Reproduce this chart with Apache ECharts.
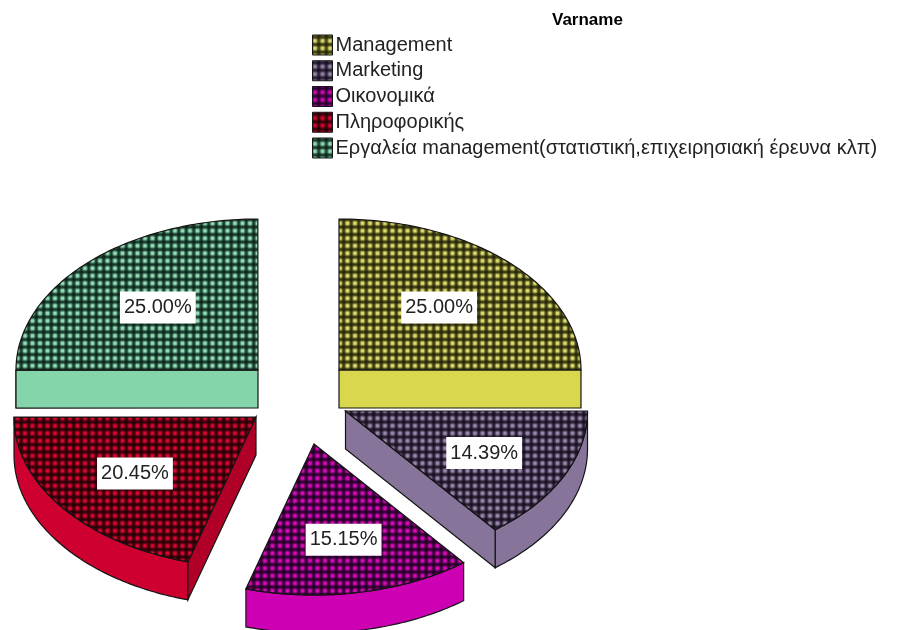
<!DOCTYPE html>
<html><head><meta charset="utf-8">
<style>html,body{margin:0;padding:0;background:#fff}#c{width:904px;height:630px;filter:blur(.4px)}</style>
<script src="https://cdn.jsdelivr.net/npm/echarts@6/dist/echarts.min.js"></script>
</head><body><div id="c"></div>
<script>
const categories=['Management','Marketing','Οικονομικά','Πληροφορικής','Εργαλεία management(στατιστική,επιχειρησιακή έρευνα κλπ)'];
const percentValues=[25.00,14.39,15.15,20.45,25.00];
const legendTitle='Varname';

const sideColors=['#D8D74E','#87749B','#CE00B4','#CE0030','#84D6AA'];
const cutColors=['#D8D74E','#87749B','#CE00B4','#B00028','#84D6AA'];
const dotRGB=[[220,219,110],[150,134,170],[216,10,184],[216,6,48],[146,222,184]];
const gridRGB=[[34,34,4],[22,12,30],[28,0,34],[30,0,4],[6,34,22]];
const apexes=[[339,370],[345.5,411],[314,444],[256,417],[258,370]];
const labelReach=[0.585,0.637,0.645,0.625,0.585];
const RX=242,RY=151,DEPTH=38,PERIOD=7.5;

function makePattern(i){
  const S=15,cv=document.createElement('canvas');cv.width=cv.height=S;
  const g=cv.getContext('2d'),im=g.createImageData(S,S);
  const wave=(p,ph)=>{const t=0.5+0.5*Math.cos(2*Math.PI*(p+0.5-ph)/PERIOD);return Math.min(1,0.14+1.0*t);};
  for(let y=0;y<S;y++)for(let x=0;x<S;x++){
    const m=wave(x,2.5)*wave(y,5.8),o=(y*S+x)*4;
    for(let k=0;k<3;k++)im.data[o+k]=gridRGB[i][k]+(dotRGB[i][k]-gridRGB[i][k])*m;
    im.data[o+3]=255;
  }
  g.putImageData(im,0,0);
  return {image:cv,repeat:'repeat'};
}
const patterns=categories.map((_,i)=>makePattern(i));

const starts=[];percentValues.reduce((a,v,i)=>{starts[i]=a;return a+v;},0);
const total=100;
const rad=p=>p/total*Math.PI*2;
const pt=(c,a,dy)=>[c[0]+RX*Math.sin(a),c[1]-RY*Math.cos(a)+(dy||0)];
function arc(c,a0,a1,dy){const n=Math.max(2,Math.ceil((a1-a0)*60)),o=[];
  for(let k=0;k<=n;k++)o.push(pt(c,a0+(a1-a0)*k/n,dy));return o;}

function renderSlice(i){return function(params,api){
  const v=api.value(0),c=apexes[i],a0=rad(starts[i]),a1=a0+rad(v);
  const ch=[];
  const line={stroke:'#141414',lineWidth:1.2};
  const face=(pts,fill)=>ch.push({type:'polygon',shape:{points:pts},style:Object.assign({fill},line)});
  const w0=Math.max(a0,Math.PI/2),w1=Math.min(a1,Math.PI*1.5);
  if(w1>w0){const up=arc(c,w0,w1,0),dn=arc(c,w0,w1,DEPTH).reverse();face(up.concat(dn),sideColors[i]);}
  if(Math.sin(a1)>1e-6){const p=pt(c,a1);face([c,p,[p[0],p[1]+DEPTH],[c[0],c[1]+DEPTH]],cutColors[i]);}
  if(Math.sin(a0)<-1e-6){const p=pt(c,a0);face([c,p,[p[0],p[1]+DEPTH],[c[0],c[1]+DEPTH]],cutColors[i]);}
  face([c].concat(arc(c,a0,a1,0)),patterns[i]);
  const m=(a0+a1)/2,f=labelReach[i];
  ch.push({type:'text',z2:10,style:{
    x:c[0]+RX*f*Math.sin(m),y:c[1]-RY*f*Math.cos(m),
    text:v.toFixed(2)+'%',align:'center',verticalAlign:'middle',
    font:'20px "Liberation Sans"',fill:'#222',
    backgroundColor:'#fff',padding:[6,4,6,4]}});
  return {type:'group',children:ch};
};}

const chart=echarts.init(document.getElementById('c'),null,{renderer:'canvas'});
chart.setOption({
  animation:false,backgroundColor:'#fff',
  title:{text:legendTitle,left:552,top:7,padding:[5,0,0,0],textStyle:{fontFamily:'Liberation Sans',fontSize:17,fontWeight:'bold',color:'#000'}},
  legend:{orient:'vertical',left:312,top:34.5,padding:0,itemWidth:20,itemHeight:20,itemGap:4.75,selectedMode:false,
    textStyle:{fontFamily:'Liberation Sans',fontSize:20,color:'#222',padding:[0,0,0,-2]},
    data:categories.map((n,i)=>({name:n,icon:'rect',itemStyle:{color:patterns[i],borderColor:'#141414',borderWidth:1}}))},
  series:categories.map((n,i)=>({type:'custom',name:n,coordinateSystem:'none',
    renderItem:renderSlice(i),data:[[percentValues[i]]],silent:true,clip:false}))
});
</script></body></html>
